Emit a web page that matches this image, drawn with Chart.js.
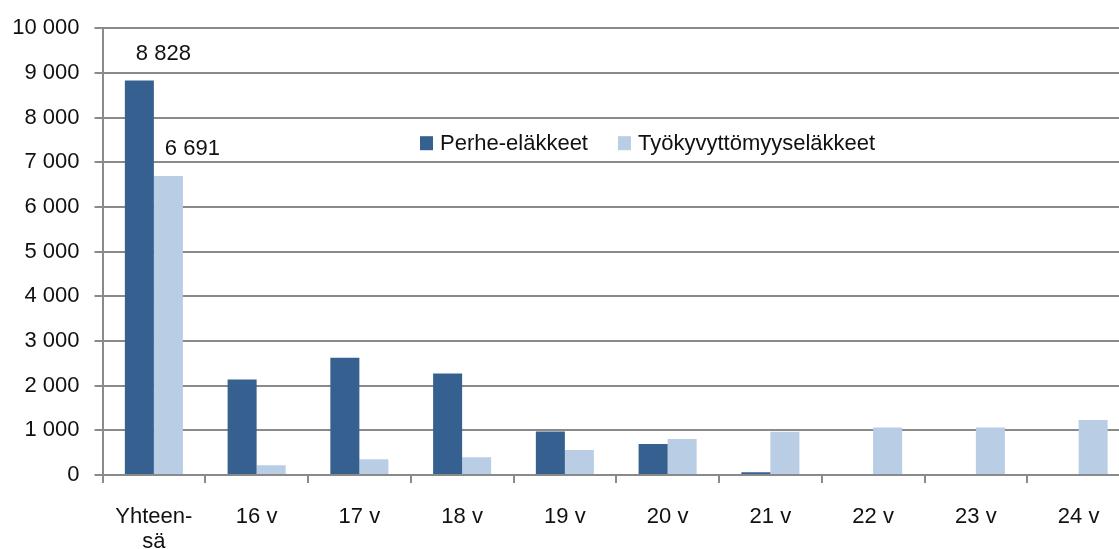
<!DOCTYPE html>
<html>
<head>
<meta charset="utf-8">
<script src="https://cdn.jsdelivr.net/npm/chart.js@4.4.0/dist/chart.umd.min.js"></script>
<style>
  html, body { margin: 0; padding: 0; background: #fff; overflow: hidden; }
  #wrap { width: 1119px; height: 549px; overflow: hidden; }
  #box { width: 1130px; height: 549px; }
</style>
</head>
<body>
<div id="wrap"><div id="box"><canvas id="chart"></canvas></div></div>
<script>
const categories = [['Yhteen-', 'sä'], '16 v', '17 v', '18 v', '19 v', '20 v', '21 v', '22 v', '23 v', '24 v'];
const perheElakkeet = [8828, 2135, 2625, 2270, 975, 695, 60, 0, 0, 0];
const tyokyvyttomyys = [6691, 220, 350, 395, 560, 805, 970, 1065, 1065, 1230];
const seriesNames = ['Perhe-eläkkeet', 'Työkyvyttömyyseläkkeet'];
const labelledIndex = [0];
const yTicks = { min: 0, max: 10000, step: 1000 };

const FONT = '"Liberation Sans", Arial, sans-serif';
const TEXT = '#111';
const GRID = '#8a8a8a';

const fmt = v => String(Math.round(v)).replace(/\B(?=(\d{3})+(?!\d))/g, ' ');

// value labels above the first group
const valueLabels = {
    id: 'valueLabels',
    afterDatasetsDraw(chart) {
        const ctx = chart.ctx;
        ctx.save();
        ctx.font = `22px ${FONT}`;
        ctx.fillStyle = TEXT;
        ctx.textAlign = 'center';
        ctx.textBaseline = 'middle';
        chart.data.datasets.forEach((ds, i) => {
            const meta = chart.getDatasetMeta(i);
            labelledIndex.forEach(idx => {
                const bar = meta.data[idx];
                ctx.fillText(fmt(ds.data[idx]), bar.x + 24, bar.y - 27);
            });
        });
        ctx.restore();
    }
};

// legend sitting inside the plot
const innerLegend = {
    id: 'innerLegend',
    afterDraw(chart) {
        const ctx = chart.ctx;
        const area = chart.chartArea;
        let x = area.left + 317.5;
        const y = area.top + 115;
        ctx.save();
        ctx.font = `22px ${FONT}`;
        ctx.textBaseline = 'middle';
        chart.data.datasets.forEach(ds => {
            ctx.fillStyle = ds.backgroundColor;
            ctx.fillRect(x, y - 7, 13, 14);
            ctx.fillStyle = TEXT;
            ctx.fillText(ds.label, x + 20, y + 1);
            x += 20 + ctx.measureText(ds.label).width + 30;
        });
        ctx.restore();
    }
};

new Chart(document.getElementById('chart'), {
    type: 'bar',
    data: {
        labels: categories,
        datasets: [
            { label: seriesNames[0], data: perheElakkeet, backgroundColor: '#36608f' },
            { label: seriesNames[1], data: tyokyvyttomyys, backgroundColor: '#b9cde5' }
        ]
    },
    options: {
        responsive: true,
        maintainAspectRatio: false,
        animation: false,
        layout: { padding: { top: 27, right: 0, left: 0, bottom: 0 } },
        datasets: { bar: { categoryPercentage: 0.565, barPercentage: 1.0 } },
        plugins: {
            legend: { display: false },
            tooltip: { enabled: false }
        },
        scales: {
            x: {
                grid: { drawOnChartArea: false, drawTicks: true, tickLength: 8, color: GRID, lineWidth: 2 },
                border: { color: GRID, width: 2 },
                ticks: { color: TEXT, padding: 22, maxRotation: 0, font: { family: FONT, size: 22, lineHeight: 1.12 } },
                afterFit(scale) { scale.height = 74; }
            },
            y: {
                min: yTicks.min,
                max: yTicks.max,
                grid: { color: GRID, lineWidth: 2, tickLength: 8 },
                border: { color: GRID, width: 2 },
                ticks: {
                    stepSize: yTicks.step,
                    color: TEXT,
                    padding: 15,
                    font: { family: FONT, size: 22 },
                    callback: v => fmt(v)
                },
                afterFit(scale) { scale.width = 102.5; }
            }
        }
    },
    plugins: [valueLabels, innerLegend]
});
</script>
</body>
</html>
